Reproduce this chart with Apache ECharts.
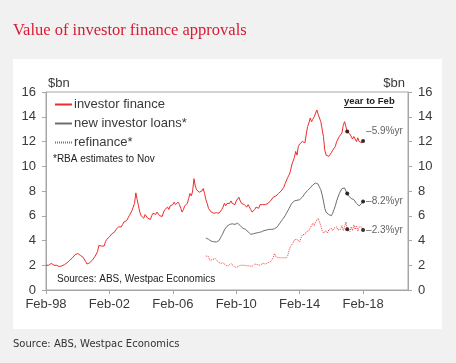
<!DOCTYPE html>
<html>
<head>
<meta charset="utf-8">
<script src="https://cdn.jsdelivr.net/npm/echarts@6/dist/echarts.min.js"></script>
<style>
html,body{margin:0;padding:0;background:#f1f1f1;}
#c{width:456px;height:363px;}
</style>
</head>
<body>
<div id="c"></div>
<script>
// x = months since Feb-1998
var xTickMonths = [0, 48, 96, 144, 192, 240];
var xTickLabels = ['Feb-98', 'Feb-02', 'Feb-06', 'Feb-10', 'Feb-14', 'Feb-18'];
var yTicks = [0, 2, 4, 6, 8, 10, 12, 14, 16];

var investorStart = 0;
var investorFinance = [
  2.0, 2.05, 2.0, 2.1, 2.15, 2.05, 2.0, 1.95, 2.0, 1.95, 1.9, 1.92,
  1.95, 2.0, 2.05, 2.1, 2.2, 2.3, 2.4, 2.45, 2.6, 2.7, 2.85, 3.0,
  2.95, 2.9, 2.8, 2.7, 2.65, 2.55, 2.3, 2.1, 2.0, 2.2, 2.35, 2.4,
  2.55, 2.7, 2.8, 3.1, 3.6, 3.5, 3.55, 3.6, 3.55, 3.9, 4.1, 4.15,
  4.3, 4.4, 4.55, 4.6, 4.7, 4.9, 5.0, 5.1, 5.25, 5.1, 5.3, 5.5,
  5.4, 5.6, 5.7, 6.0, 6.1, 6.4, 6.7, 7.0, 7.85, 7.3, 6.8, 6.3,
  6.0, 5.9, 5.8, 6.1, 5.95, 5.8, 5.9, 5.7, 6.0, 6.2, 6.3, 6.1,
  6.3, 6.2, 6.0, 6.1, 5.95, 6.3, 6.5, 6.4, 6.7, 6.5, 6.8, 6.9,
  6.9, 7.1, 6.9, 7.0, 7.1, 6.9, 6.6, 6.3, 6.5, 6.8, 6.9, 7.0,
  7.4, 7.8, 7.6, 8.0, 9.0, 8.4, 8.1, 8.0, 7.9, 7.95, 8.0, 8.2,
  7.8, 7.3, 7.0, 6.6, 6.5, 6.3, 6.4, 6.2, 6.3, 6.25, 6.3, 6.2,
  6.2, 6.5, 6.7, 7.0, 6.8, 7.0, 7.1, 7.0, 7.2, 7.0, 7.0, 6.9,
  7.2, 7.3, 7.5, 7.2, 7.0, 6.9, 6.9, 6.8, 6.7, 6.9, 6.8, 6.5,
  6.3, 6.4, 6.5, 6.7, 6.7, 6.6, 6.9, 6.8, 6.9, 7.0, 6.9, 7.0,
  7.0, 7.1, 7.2, 7.3, 7.5, 7.4, 7.6, 7.7, 7.8, 7.9, 8.0, 8.1,
  8.3, 8.6, 8.7, 9.1, 9.3, 9.6, 10.1, 10.4, 10.7, 11.2, 10.9, 11.6,
  11.8, 11.7, 12.0, 12.1, 11.9, 12.6, 13.2, 13.5, 13.9, 13.6, 13.8, 14.0,
  14.1, 14.55, 14.2, 13.9, 13.6, 13.0, 12.4, 11.3, 10.9, 11.0, 10.8, 10.9,
  11.1, 11.3, 11.2, 11.6, 12.0, 12.1, 12.4, 12.3, 12.7, 13.3, 13.6, 13.2,
  12.8, 12.9, 12.6, 12.5, 12.2, 12.4, 12.25, 12.0, 12.3, 12.0, 11.85, 11.9, 12.05
];

var newLoansStart = 121;
var newInvestorLoans = [
  4.2, 4.15, 4.1, 4.0, 3.95, 3.95, 3.9, 3.9, 3.88, 3.92, 4.0,
  4.2, 4.4, 4.6, 4.85, 5.0, 5.15, 5.25, 5.3, 5.3, 5.35, 5.35, 5.3,
  5.4, 5.4, 5.35, 5.2, 5.1, 5.0, 4.95, 4.9, 4.8, 4.7, 4.6, 4.5,
  4.5, 4.55, 4.6, 4.6, 4.6, 4.65, 4.7, 4.7, 4.75, 4.8, 4.85, 4.85,
  4.85, 4.9, 4.9, 4.9, 4.95, 4.95, 5.0, 5.1, 5.25, 5.4, 5.55, 5.7,
  5.85, 6.0, 6.2, 6.4, 6.6, 6.8, 7.0, 7.1, 7.2, 7.2, 7.25, 7.25,
  7.3, 7.4, 7.5, 7.65, 7.8, 7.95, 8.05, 8.15, 8.25, 8.4, 8.5, 8.6,
  8.65, 8.75, 8.55, 8.3, 8.1, 7.7, 7.2, 6.6, 6.3, 6.2, 6.1, 6.05,
  6.0, 6.2, 6.5, 6.8, 7.2, 7.5, 7.8, 8.0, 8.2, 8.3, 8.25, 8.0,
  7.8, 7.6, 7.5, 7.4, 7.45, 7.3, 7.2, 7.0, 6.9, 6.8, 6.85, 7.0, 7.15
];

var refinanceStart = 121;
var refinance = [
  2.75, 2.6, 2.7, 2.4, 2.5, 2.45, 2.3, 2.55, 2.4, 2.3, 2.2,
  2.15, 2.1, 2.2, 2.05, 2.0, 2.1, 1.95, 2.0, 2.15, 2.1, 1.95, 1.9,
  1.8, 1.75, 1.95, 2.05, 2.0, 1.9, 2.0, 1.85, 1.95, 2.0, 1.95, 2.05,
  1.9, 2.0, 2.1, 2.0, 2.05, 2.2, 2.0, 2.1, 2.15, 2.25, 2.1, 2.2,
  2.2, 2.35, 2.3, 2.4, 2.6, 2.95, 2.7, 2.65, 2.6, 2.55, 2.6, 2.5,
  2.6, 2.55, 2.6, 2.8, 3.2, 3.5, 3.4, 3.8, 4.05, 3.9, 4.1, 4.0,
  3.9, 4.2, 4.45, 4.3, 4.5, 4.7, 4.6, 4.8, 5.0, 4.9, 5.4, 5.2,
  5.5, 5.65, 5.8, 5.5, 5.2, 4.8, 4.6, 4.7, 4.8, 4.6, 4.85, 4.9,
  5.0, 4.8, 5.0, 4.9, 5.1, 4.85, 5.0, 4.9, 5.2, 4.8, 5.1, 5.5,
  4.9, 5.0, 4.7, 5.1, 4.8, 5.25, 4.9, 5.2, 4.75, 5.1, 5.0, 5.1, 4.85
];

var markMonths = [228, 240]; // Feb-17, Feb-18
var growthLabels = ['\u20135.9%yr', '\u20138.2%yr', '\u20132.3%yr'];

function toPairs(start, arr) {
  return arr.map(function (v, i) { return [start + i, v]; });
}
function marks(start, arr, label, dy) {
  return markMonths.map(function (m, k) {
    var d = { value: [m, arr[m - start]] };
    if (k === markMonths.length - 1) {
      d.label = { show: true, formatter: label, position: 'right', distance: 1, offset: [0, dy] };
    }
    return d;
  });
}

var FONT = '"Liberation Sans", Arial, sans-serif';
var chart = echarts.init(document.getElementById('c'), null, { renderer: 'canvas' });

var axisCol = '#a6a6a6';
var txtCol = '#3a3a3a';

var option = {
  backgroundColor: '#f1f1f1',
  animation: false,
  textStyle: { fontFamily: FONT },
  graphic: [
    { type: 'rect', z: -10, shape: { x: 13, y: 59, width: 429, height: 270 }, style: { fill: '#ffffff' } },
    { type: 'text', left: 13, top: 22, style: { text: 'Value of investor finance approvals', fill: '#d81b34', font: '16.5px "Liberation Serif", "Times New Roman", serif' } },
    { type: 'text', left: 48, top: 77, style: { text: '$bn', fill: txtCol, font: '13px ' + FONT } },
    { type: 'text', right: 51, top: 77, style: { text: '$bn', fill: txtCol, font: '13px ' + FONT } },
    { type: 'text', left: 53, top: 154, style: { text: '*RBA estimates to Nov', fill: '#222', font: '10px ' + FONT } },
    { type: 'text', left: 344, top: 96, style: { text: 'year to Feb', fill: '#222', font: 'bold 9.5px ' + FONT } },
    { type: 'line', shape: { x1: 344, y1: 107.5, x2: 393, y2: 107.5 }, style: { stroke: '#222', lineWidth: 1 } },
    { type: 'text', left: 57, top: 274, style: { text: 'Sources: ABS, Westpac Economics', fill: '#222', font: '10px ' + FONT } },
    { type: 'text', left: 13, top: 339, style: { text: 'Source: ABS, Westpac Economics', fill: '#333', font: '10px "DejaVu Sans", sans-serif' } }
  ],
  legend: {
    left: 54, top: 98, padding: 0, orient: 'vertical', itemGap: 6, itemWidth: 17, itemHeight: 12,
    itemStyle: { opacity: 0 },
    textStyle: { fontSize: 13, color: txtCol, fontFamily: FONT, padding: [0, 0, 0, -3] },
    data: ['investor finance', 'new investor loans*', 'refinance*']
  },
  grid: { left: 46, right: 48, top: 92, bottom: 73, show: true, borderColor: axisCol, borderWidth: 1, backgroundColor: 'transparent' },
  xAxis: {
    type: 'value', min: 0, max: 274,
    axisLine: { lineStyle: { color: axisCol } },
    axisTick: { show: true, length: 4, lineStyle: { color: axisCol }, customValues: xTickMonths },
    axisLabel: { fontSize: 13, color: txtCol, margin: 8, customValues: xTickMonths,
      formatter: function (v) { var i = xTickMonths.indexOf(v); return i >= 0 ? xTickLabels[i] : ''; } },
    splitLine: { show: false }
  },
  yAxis: [
    { type: 'value', min: 0, max: 16, interval: 2, position: 'left',
      axisLine: { show: true, lineStyle: { color: axisCol } },
      axisTick: { show: true, length: 4, lineStyle: { color: axisCol } },
      axisLabel: { fontSize: 13, color: txtCol, margin: 10 },
      splitLine: { show: false } },
    { type: 'value', min: 0, max: 16, interval: 2, position: 'right',
      axisLine: { show: true, lineStyle: { color: axisCol } },
      axisTick: { show: true, length: 4, lineStyle: { color: axisCol } },
      axisLabel: { fontSize: 13, color: txtCol, margin: 10 },
      splitLine: { show: false } }
  ],
  series: [
    { name: 'investor finance', type: 'line', symbol: 'none', data: toPairs(investorStart, investorFinance),
      lineStyle: { color: '#ee2c2c', width: 1 }, itemStyle: { color: '#ee2c2c' } },
    { name: 'new investor loans*', type: 'line', symbol: 'none', data: toPairs(newLoansStart, newInvestorLoans),
      lineStyle: { color: '#6e6e6e', width: 1 }, itemStyle: { color: '#6e6e6e' } },
    { name: 'refinance*', type: 'line', symbol: 'none', data: toPairs(refinanceStart, refinance),
      lineStyle: { color: '#f04040', width: 1, type: [1, 1] }, itemStyle: { color: '#f04040' } },
    { type: 'scatter', symbol: 'circle', symbolSize: 4, itemStyle: { color: '#000' }, z: 5,
      label: { color: txtCol, fontSize: 10, fontFamily: FONT },
      data: marks(investorStart, investorFinance, growthLabels[0], -10)
        .concat(marks(newLoansStart, newInvestorLoans, growthLabels[1], 0))
        .concat(marks(refinanceStart, refinance, growthLabels[2], 0)) }
  ]
};
chart.setOption(option);
</script>
</body>
</html>
